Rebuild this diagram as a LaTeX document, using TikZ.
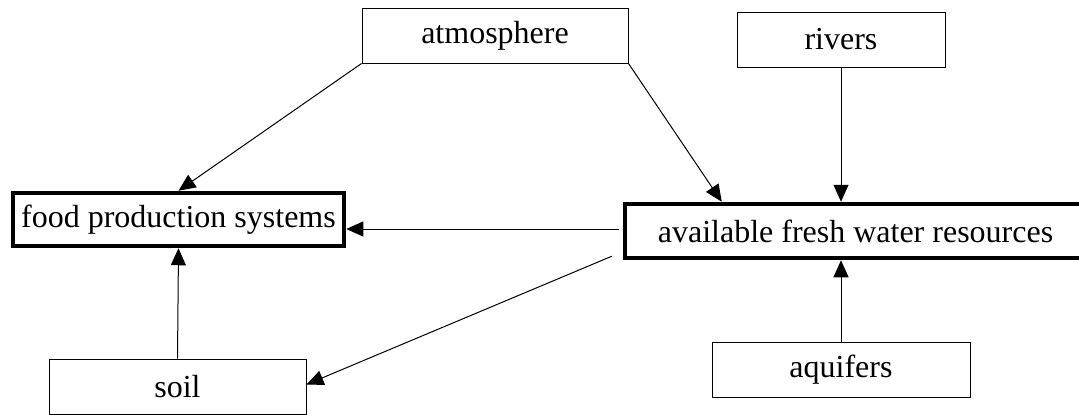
\documentclass[tikz,border=0pt]{standalone}
\usepackage{fontspec}
\setmainfont{Liberation Serif}
\usetikzlibrary{arrows.meta}
\begin{document}
\begin{tikzpicture}[x=1pt,y=1pt,
  thinbox/.style={draw,line width=1pt,inner sep=0pt,font=\fontsize{32}{36}\selectfont},
  thickbox/.style={draw,line width=4.5pt,inner sep=0pt,font=\fontsize{32}{36}\selectfont},
  arr/.style={line width=1pt,-{Triangle[length=17pt,width=15pt]}}]
\useasboundingbox (0,0) rectangle (1079,-415);
\clip (0,0) rectangle (1079,-415);
\node[thinbox,minimum width=266pt,minimum height=55pt] (atm) at (495,-35.5) {atmosphere};
\node[thinbox,minimum width=208pt,minimum height=55pt] (riv) at (841,-39.5) {rivers};
\node[thickbox,minimum width=331pt,minimum height=53pt] (food) at (178.5,-219.5) {food production systems};
\node[thickbox,minimum width=491pt,minimum height=54pt] (water) at (870.5,-231) {available fresh water resources\hspace*{30pt}};
\node[thinbox,minimum width=257pt,minimum height=55pt] (soil) at (177.5,-386.5) {soil};
\node[thinbox,minimum width=258pt,minimum height=55pt] (aq) at (841,-369.5) {aquifers};
\coordinate (wn) at ([xshift=99pt]water.north west);
\coordinate (w1) at ([xshift=-4pt,yshift=2pt]water.west);
\coordinate (w2) at ([xshift=-11pt,yshift=4pt]water.south west);
\draw[arr] (atm.south west) -- (food.north);
\draw[arr] (atm.south east) -- (wn);
\draw[arr] (riv.south) -- (riv.south |- water.north);
\draw[arr] (w1) -- (food.east |- w1);
\draw[arr] (w2) -- ([yshift=2pt]soil.east);
\draw[arr] (soil.north) -- (food.south);
\draw[arr] (aq.north) -- (aq.north |- water.south);
\end{tikzpicture}
\end{document}
